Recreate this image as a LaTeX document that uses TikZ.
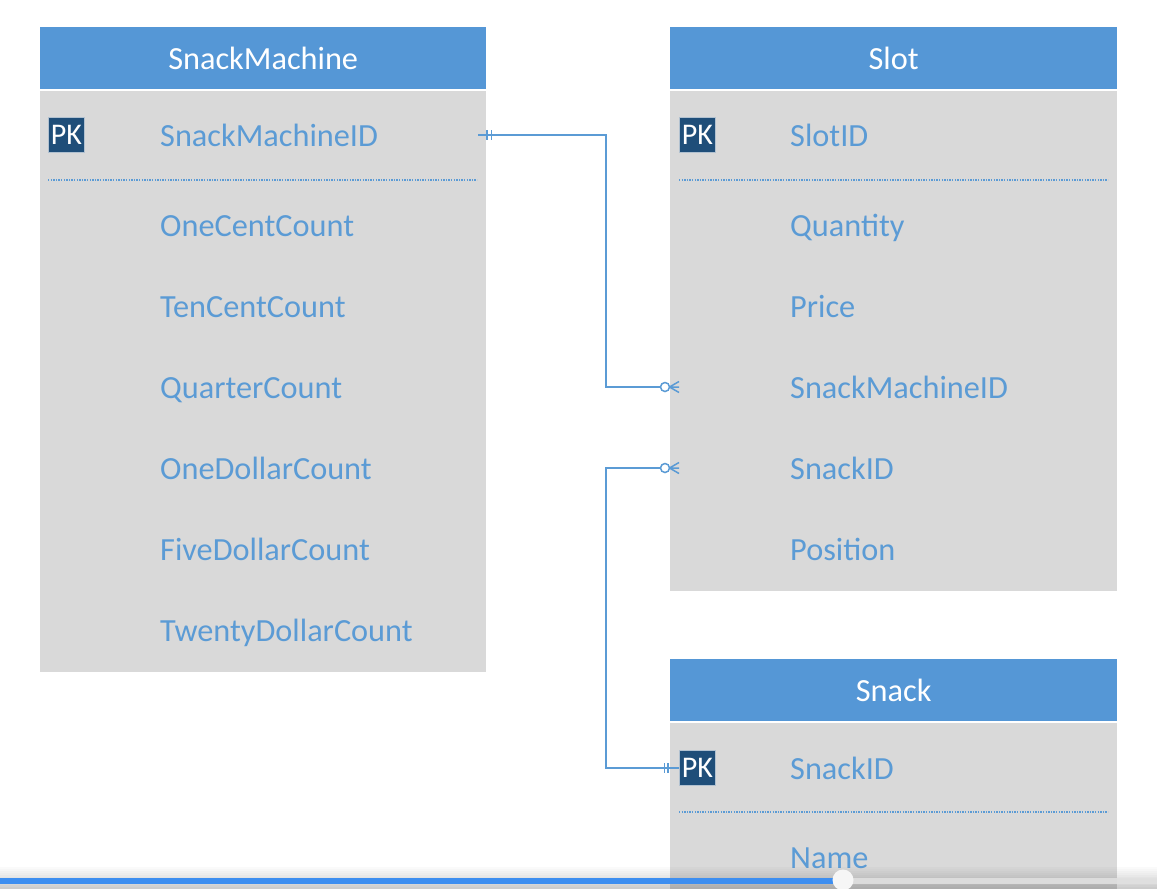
\documentclass[tikz,border=0pt]{standalone}
\usepackage{fontspec}
\setmainfont{Carlito}
\usetikzlibrary{calc}
\definecolor{hdr}{HTML}{5597D6}
\definecolor{bodyg}{HTML}{D9D9D9}
\definecolor{fld}{HTML}{5B9BD5}
\definecolor{pkc}{HTML}{1F4E79}
\definecolor{barblue}{HTML}{3D8EF0}
\begin{document}
\begin{tikzpicture}[x=1pt,y=-1pt,
  hdrbox/.style={fill=hdr, draw=none, minimum width=447pt, minimum height=62pt, anchor=north west, inner sep=0pt, text=white, font=\fontsize{32.3}{32}\selectfont},
  bodybox/.style={fill=bodyg, draw=none, minimum width=447pt, anchor=north west, inner sep=0pt},
  field/.style={anchor=base west, text=fld, inner sep=0pt, font=\fontsize{32.3}{32}\selectfont},
  pkbox/.style={fill=pkc, draw=white!65!pkc, line width=0.8pt, text=white, minimum width=36pt, minimum height=35pt, inner sep=0pt, font=\fontsize{30}{30}\selectfont},
  sepline/.style={fld, line width=1.1pt, dash pattern=on 1.3pt off 1.3pt},
  conn/.style={fld, line width=1.5pt},
  tick/.style={fld, line width=1.3pt}
]
\useasboundingbox (0,0) rectangle (1157,889);
\fill[white] (0,0) rectangle (1157,889);

% ---------- SnackMachine ----------
\node[bodybox, minimum height=581pt, minimum width=446pt] (smbody) at (40,91) {};
\node[hdrbox, minimum width=446pt] (smhdr) at (40,27) {SnackMachine};
\node[pkbox] (smpk) at (66.5,135) {PK};
\node[field] (smid) at (160,146) {SnackMachineID};
\draw[sepline] (48,180) -- (477,180);
\node[field] (sm1) at (160,236) {OneCentCount};
\node[field] (sm2) at (160,317) {TenCentCount};
\node[field] (sm3) at (160,398) {QuarterCount};
\node[field] (sm4) at (160,479) {OneDollarCount};
\node[field] (sm5) at (160,560) {FiveDollarCount};
\node[field] (sm6) at (160,641) {TwentyDollarCount};

% ---------- Slot ----------
\node[bodybox, minimum height=500pt] (slbody) at (670,91) {};
\node[hdrbox] (slhdr) at (670,27) {Slot};
\node[pkbox] (slpk) at (697.5,135) {PK};
\node[field] (slid) at (790,146) {SlotID};
\draw[sepline] (679,180) -- (1108,180);
\node[field] (sl1) at (790,236) {Quantity};
\node[field] (sl2) at (790,317) {Price};
\node[field] (sl3) at (790,398) {SnackMachineID};
\node[field] (sl4) at (790,479) {SnackID};
\node[field] (sl5) at (790,560) {Position};

% ---------- Snack ----------
\node[bodybox, minimum height=166pt] (snbody) at (670,723) {};
\node[hdrbox] (snhdr) at (670,659) {Snack};
\node[pkbox] (snpk) at (697.5,768) {PK};
\node[field] (snid) at (790,779) {SnackID};
\draw[sepline] (679,812) -- (1108,812);
\node[field] (sn1) at (790,868) {Name};

% ---------- connector SnackMachine -> Slot ----------
\coordinate (c1s) at ([xshift=-8pt]smbody.east |- smpk.center);
\coordinate (c1m) at (606,0);
\coordinate (c1e) at (679,387);
\draw[conn] (c1s) -- (c1s -| c1m) -- (c1m |- c1e) -- (660.5,387);
\draw[tick] (487,130) -- (487,140) (491.5,130) -- (491.5,140);
\draw[conn, fill=white] (665,387) circle (4.5pt);
\draw[conn] (669.5,387) -- (c1e) (669.5,387) -- (679,381.5) (669.5,387) -- (679,392.5);

% ---------- connector Slot -> Snack ----------
\coordinate (c2s) at (679,468);
\coordinate (c2e) at (snpk.west);
\draw[conn] (660.5,468) -- (c2s -| c1m) -- (c1m |- c2e) -- (c2e);
\draw[conn, fill=white] (665,468) circle (4.5pt);
\draw[conn] (669.5,468) -- (c2s) (669.5,468) -- (679,462.5) (669.5,468) -- (679,473.5);
\draw[tick] (664.5,763) -- (664.5,773) (668,763) -- (668,773);

% ---------- video progress bar overlay ----------
\foreach \i in {0,...,11} {
  \fill[black, opacity=0.018*\i] (0,865+2*\i) rectangle (1157,867+2*\i);
}
\fill[white!88!black, opacity=0.9] (843,877.5) rectangle (1157,883.5);
\fill[barblue] (0,877.5) rectangle (843,883.5);
\fill[white!93!gray] (843,880) circle (10.5pt);
\end{tikzpicture}
\end{document}
